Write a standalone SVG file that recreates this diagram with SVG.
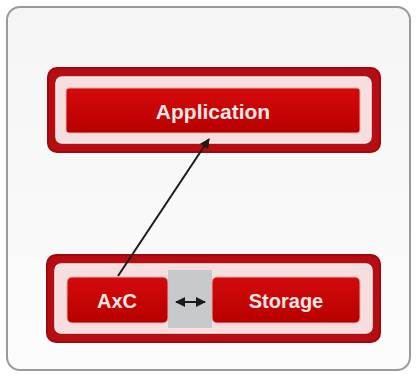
<svg xmlns="http://www.w3.org/2000/svg" width="417" height="376" viewBox="0 0 417 376">
<defs>
<linearGradient id="redg" x1="0" y1="0" x2="0" y2="1">
<stop offset="0" stop-color="#d40a0a"/>
<stop offset="1" stop-color="#b80000"/>
</linearGradient>
<linearGradient id="cardg" x1="0" y1="0" x2="0" y2="1">
<stop offset="0" stop-color="#f5f5f5"/>
<stop offset="1" stop-color="#fcfcfc"/>
</linearGradient>
<marker id="ah" viewBox="0 0 10 10" refX="9" refY="5" markerWidth="5" markerHeight="5" orient="auto-start-reverse">
<path d="M0,0 L10,5 L0,10 z" fill="#1a1a1a"/>
</marker>
</defs>
<style>
.outer{fill:#b50d12;stroke:#a0080c;stroke-width:2}
.band{fill:#f6dede;stroke:#fbeeee;stroke-width:1.5}
.node{fill:url(#redg);stroke:#e9b0b0;stroke-width:1}
.lbl{font-family:"Liberation Sans",Arial,sans-serif;font-weight:bold;fill:#fbe6e6;text-anchor:middle;dominant-baseline:central}
.conn{stroke:#1a1a1a;stroke-width:2;fill:none}
</style>
<rect x="7" y="7" width="403" height="363" rx="13" fill="url(#cardg)" stroke="#9a9a9a" stroke-width="2"/>
<g id="application">
<rect class="outer" x="48" y="68" width="332" height="84" rx="9"/>
<rect class="band" x="56" y="77" width="315" height="66" rx="6"/>
<rect class="node" x="66" y="88" width="294" height="45" rx="3"/>
<text class="lbl" x="213" y="111" font-size="21">Application</text>
</g>
<g id="storage-group">
<rect class="outer" x="47" y="255" width="333" height="87" rx="9"/>
<rect class="band" x="55" y="264" width="317" height="69" rx="6"/>
<rect x="168" y="270" width="44" height="58" fill="#c7cacd"/>
</g>
<g id="axc">
<rect class="node" x="67" y="277" width="101" height="46" rx="5"/>
<text class="lbl" x="117" y="301" font-size="20">AxC</text>
</g>
<g id="storage">
<rect class="node" x="212" y="277" width="148" height="46" rx="5"/>
<text class="lbl" x="286" y="301" font-size="20">Storage</text>
</g>
<g id="connectors">
<line class="conn" x1="118" y1="276" x2="209" y2="139" marker-end="url(#ah)"/>
<line class="conn" x1="176" y1="302" x2="205" y2="302" marker-start="url(#ah)" marker-end="url(#ah)"/>
</g>
</svg>
